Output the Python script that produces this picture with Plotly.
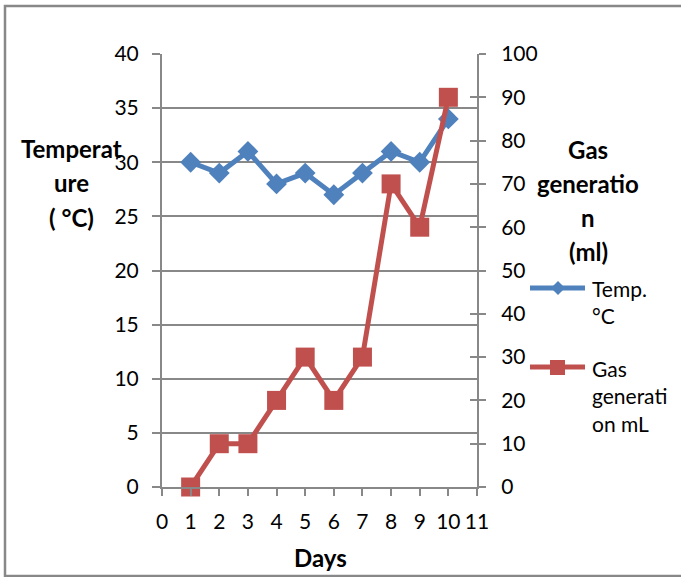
import plotly.graph_objects as go

# Daily readings
days = [1, 2, 3, 4, 5, 6, 7, 8, 9, 10]
temp_c = [30, 29, 31, 28, 29, 27, 29, 31, 30, 34]
gas_ml = [0, 10, 10, 20, 30, 20, 30, 70, 60, 90]

x_ticks = list(range(0, 12))
temp_ticks = list(range(0, 45, 5))
gas_ticks = list(range(0, 110, 10))

BLUE = "#4F81BD"
RED = "#C0504D"
GREY = "#888888"
FONT = "Lato"
FS = 21
TITLE_FS = 24

W, H = 681, 577
L, R, T, B = 162, 204, 54, 90
pw, ph = W - L - R, H - T - B


def px(x):
    return (x - L) / pw


def py(y):
    return (H - B - y) / ph


fig = go.Figure()
fig.add_trace(go.Scatter(
    x=days, y=temp_c, name="Temp. °C", mode="lines+markers",
    line=dict(color=BLUE, width=5),
    marker=dict(symbol="diamond", size=16, color=BLUE),
    yaxis="y", showlegend=False, cliponaxis=False,
))
fig.add_trace(go.Scatter(
    x=days, y=gas_ml, name="Gas generation mL", mode="lines+markers",
    line=dict(color=RED, width=5),
    marker=dict(symbol="square", size=19, color=RED),
    yaxis="y2", showlegend=False, cliponaxis=False,
))

axis_common = dict(
    showline=True, linecolor=GREY, linewidth=2,
    tickcolor=GREY, tickwidth=2, zeroline=False,
    tickfont=dict(family=FONT, size=FS, color="#000000"),
)

fig.update_layout(
    width=W, height=H,
    margin=dict(l=L, r=R, t=T, b=B, pad=0),
    paper_bgcolor="white", plot_bgcolor="white",
    font=dict(family=FONT, size=FS, color="#000000"),
    xaxis=dict(
        range=[0, 11], tickvals=x_ticks, ticks="outside", ticklen=7,
        showgrid=False, ticklabelstandoff=8, **axis_common,
    ),
    yaxis=dict(
        range=[0, 40], tickvals=temp_ticks, ticks="outside", ticklen=8,
        showgrid=True, gridcolor=GREY, gridwidth=2,
        ticklabelstandoff=9, **axis_common,
    ),
    yaxis2=dict(
        range=[0, 100], tickvals=gas_ticks, ticks="outside", ticklen=7,
        overlaying="y", side="right", anchor="x", showgrid=False,
        ticklabelstandoff=11, **axis_common,
    ),
    yaxis3=dict(
        range=[0, 100], tickvals=gas_ticks, ticks="inside", ticklen=7,
        tickcolor=GREY, tickwidth=2, overlaying="y", side="right",
        anchor="x", showgrid=False, showline=False, zeroline=False,
        showticklabels=False,
    ),
    showlegend=False,
)
# empty trace so the third (inside-tick) axis is rendered
fig.add_trace(go.Scatter(x=[None], y=[None], yaxis="y3", showlegend=False,
                         hoverinfo="skip"))

annotations = []


def label(text, x, y, bold=True, xanchor="center", size=TITLE_FS):
    annotations.append(dict(
        text=f"<b>{text}</b>" if bold else text,
        x=px(x), y=py(y), xref="paper", yref="paper",
        xanchor=xanchor, yanchor="middle", align=xanchor, showarrow=False,
        font=dict(family=FONT, size=size, color="#000000"),
    ))


# axis titles
for line, yy in zip(["Temperat", "ure", "( °C)"], [148, 182, 217]):
    label(line, 71, yy)
for line, yy in zip(["Gas", "generatio", "n", "(ml)"], [149, 183, 217, 251]):
    label(line, 588, yy)
label("Days", 320, 557)

# legend text
label("Temp.<br>°C", 590, 302, bold=False, xanchor="left", size=FS)
label("Gas<br>generati<br>on mL", 590, 396, bold=False, xanchor="left", size=FS)

shapes = [
    # chart border
    dict(type="rect", xref="paper", yref="paper",
         x0=px(5), x1=px(700), y0=py(576), y1=py(6),
         line=dict(color=GREY, width=2.5), layer="below"),
    # legend samples
    dict(type="line", xref="paper", yref="paper",
         x0=px(530), x1=px(585), y0=py(288), y1=py(288),
         line=dict(color=BLUE, width=5)),
    dict(type="path", xref="paper", yref="paper",
         path=f"M {px(551)} {py(288)} L {px(558)} {py(281)} L {px(565)} {py(288)} "
              f"L {px(558)} {py(295)} Z",
         fillcolor=BLUE, line=dict(width=0)),
    dict(type="line", xref="paper", yref="paper",
         x0=px(530), x1=px(585), y0=py(367), y1=py(367),
         line=dict(color=RED, width=5)),
    dict(type="rect", xref="paper", yref="paper",
         x0=px(550), x1=px(565), y0=py(375), y1=py(360),
         fillcolor=RED, line=dict(width=0)),
]

fig.update_layout(annotations=annotations, shapes=shapes)
fig.write_html("out.html")
